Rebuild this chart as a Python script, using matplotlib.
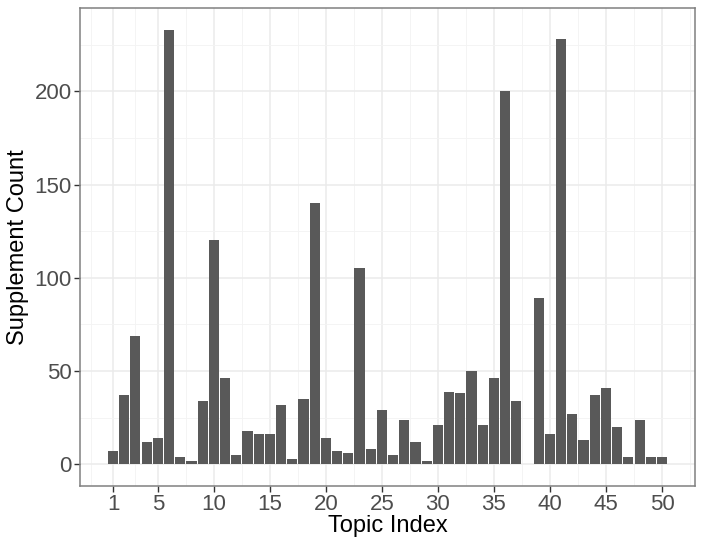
import numpy as np
import matplotlib
matplotlib.use('Agg')
import matplotlib.pyplot as plt

plt.rcParams['font.family'] = ['Liberation Sans', 'DejaVu Sans']

# data
topics = list(range(1, 51))
counts = [7, 37, 69, 12, 14, 233, 4, 2, 34, 120,
          46, 5, 18, 16, 16, 32, 3, 35, 140, 14,
          7, 6, 105, 8, 29, 5, 24, 12, 2, 21,
          39, 38, 50, 21, 46, 200, 34, 0, 89, 16,
          228, 27, 13, 37, 41, 20, 4, 24, 4, 4]
x_ticks = [1, 5, 10, 15, 20, 25, 30, 35, 40, 45, 50]
y_ticks = [0, 50, 100, 150, 200]

fig = plt.figure(figsize=(7.04, 5.5), dpi=100)
ax = fig.add_axes([80/704, 1 - 486/550, 615/704, 478/550])

ax.bar(topics, counts, width=0.9, color='#595959', edgecolor='none', zorder=3)

ax.set_xlim(-1.95, 52.95)
ax.set_ylim(-11.65, 244.65)

ax.set_xticks(x_ticks)
ax.set_yticks(y_ticks)
ax.set_xticks([-1, 3, 7.5, 12.5, 17.5, 22.5, 27.5, 32.5, 37.5, 42.5, 47.5, 52.5], minor=True)
ax.set_yticks([25, 75, 125, 175, 225], minor=True)

ax.grid(which='major', color='#ebebeb', linewidth=1.1, zorder=0)
ax.grid(which='minor', color='#f3f3f3', linewidth=0.6, zorder=0)
ax.tick_params(which='minor', length=0)
ax.tick_params(which='major', length=4, width=1, color='#333333',
               labelsize=16, labelcolor='#4d4d4d', pad=2)

for s in ax.spines.values():
    s.set_color('#808080')
    s.set_linewidth(1.1)

ax.set_xlabel('Topic Index', fontsize=17, color='black', labelpad=0)
ax.set_ylabel('Supplement Count', fontsize=17, color='black', labelpad=4)

fig.savefig('out.png', dpi=100)
